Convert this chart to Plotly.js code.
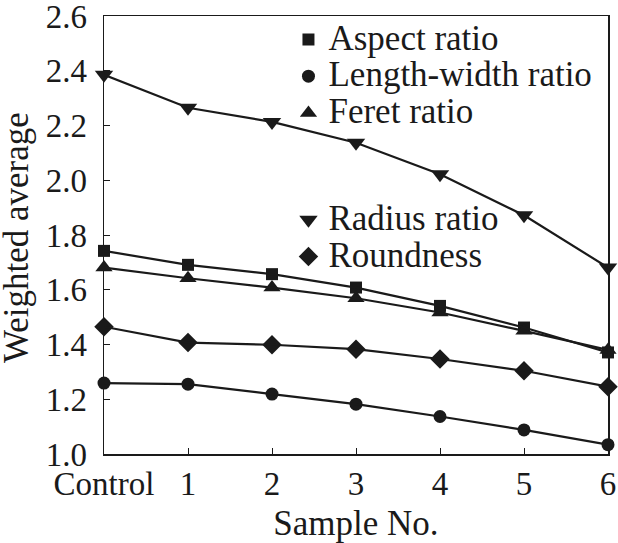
<!DOCTYPE html>
<html>
<head>
<meta charset="utf-8">
<script src="https://cdn.plot.ly/plotly-3.0.1.min.js"></script>
<style>
  html, body { margin: 0; padding: 0; background: #fff; }
  #chart { width: 618px; height: 543px; }
</style>
</head>
<body>
<div id="chart"></div>
<script>
const samples = ['Control', '1', '2', '3', '4', '5', '6'];

const aspectRatio = [1.742, 1.691, 1.657, 1.608, 1.541, 1.462, 1.371];
const lengthWidthRatio = [1.259, 1.255, 1.219, 1.182, 1.137, 1.088, 1.034];
const feretRatio = [1.681, 1.642, 1.608, 1.569, 1.517, 1.450, 1.380];
const radiusRatio = [2.385, 2.265, 2.213, 2.137, 2.022, 1.872, 1.681];
const roundness = [1.465, 1.407, 1.399, 1.383, 1.347, 1.304, 1.246];

const yTicks = [1.0, 1.2, 1.4, 1.6, 1.8, 2.0, 2.2, 2.4, 2.6];

const ink = '#1a1a1a';
const serif = 'Liberation Serif';

const seriesList = [
    { name: 'Aspect ratio', values: aspectRatio, symbol: 'square', size: 12, group: 'top' },
    { name: 'Length-width ratio', values: lengthWidthRatio, symbol: 'circle', size: 13, group: 'top' },
    { name: 'Feret ratio', values: feretRatio, symbol: 'triangle-up', size: 15, group: 'top' },
    { name: 'Radius ratio', values: radiusRatio, symbol: 'triangle-down', size: 16, group: 'bottom' },
    { name: 'Roundness', values: roundness, symbol: 'diamond', size: 15, group: 'bottom' }
];

const data = [];

// lines on the overlay axis (which only draws the inside ticks)
seriesList.forEach(s => {
    data.push({
        type: 'scatter',
        mode: 'lines',
        x: samples,
        y: s.values,
        yaxis: 'y2',
        line: { color: ink, width: 2.2 },
        showlegend: false,
        hoverinfo: 'skip',
        cliponaxis: false
    });
});

// markers carry the legend, so the legend shows the symbol only
seriesList.forEach(s => {
    data.push({
        type: 'scatter',
        mode: 'markers',
        x: samples,
        y: s.values,
        name: '<span style="font-size:35px">' + s.name + '</span>',
        legendgroup: s.group,
        marker: { symbol: s.symbol, size: s.size, color: ink },
        cliponaxis: false
    });
});

const yRange = [1.0, 2.6];

const layout = {
    width: 618,
    height: 543,
    margin: { l: 104, r: 10, t: 16, b: 89 },
    paper_bgcolor: '#fff',
    plot_bgcolor: '#fff',
    font: { family: serif, color: ink, size: 33 },
    showlegend: true,
    legend: {
        x: 0.366,
        y: 1,
        xanchor: 'left',
        yanchor: 'top',
        bgcolor: 'rgba(0,0,0,0)',
        borderwidth: 0,
        font: { family: serif, size: 26, color: ink },
        traceorder: 'grouped',
        tracegroupgap: 70,
        itemsizing: 'trace'
    },
    xaxis: {
        type: 'category',
        range: [0, 6],
        showgrid: false,
        zeroline: false,
        showline: true,
        linecolor: ink,
        linewidth: 1.5,
        mirror: true,
        ticks: 'inside',
        ticklen: 6,
        tickwidth: 1,
        tickcolor: ink,
        tickfont: { family: serif, size: 33, color: ink },
        title: { text: 'Sample No.', font: { family: serif, size: 35, color: ink } }
    },
    // labelled axis: transparent outside ticks push the labels away from the frame
    yaxis: {
        range: yRange,
        tickvals: yTicks,
        ticktext: yTicks.map(v => v.toFixed(1)),
        ticklabeloverflow: 'allow',
        showgrid: false,
        zeroline: false,
        showline: true,
        linecolor: ink,
        linewidth: 1.5,
        mirror: true,
        ticks: 'outside',
        ticklen: 9,
        tickwidth: 1,
        tickcolor: 'rgba(0,0,0,0)',
        tickfont: { family: serif, size: 33, color: ink }
    },
    // overlay axis: visible inside ticks, no labels
    yaxis2: {
        overlaying: 'y',
        side: 'left',
        anchor: 'x',
        range: yRange,
        tickvals: yTicks,
        showticklabels: false,
        showgrid: false,
        zeroline: false,
        showline: false,
        ticks: 'inside',
        ticklen: 6,
        tickwidth: 1,
        tickcolor: ink
    },
    // y title as a rotated annotation so it can sit close to the left edge
    annotations: [{
        text: 'Weighted average',
        xref: 'paper',
        yref: 'paper',
        x: -0.1746,
        y: 0.493,
        xanchor: 'center',
        yanchor: 'middle',
        textangle: -90,
        showarrow: false,
        font: { family: serif, size: 35, color: ink }
    }]
};

Plotly.newPlot('chart', data, layout, { displayModeBar: false, staticPlot: true });
</script>
</body>
</html>
